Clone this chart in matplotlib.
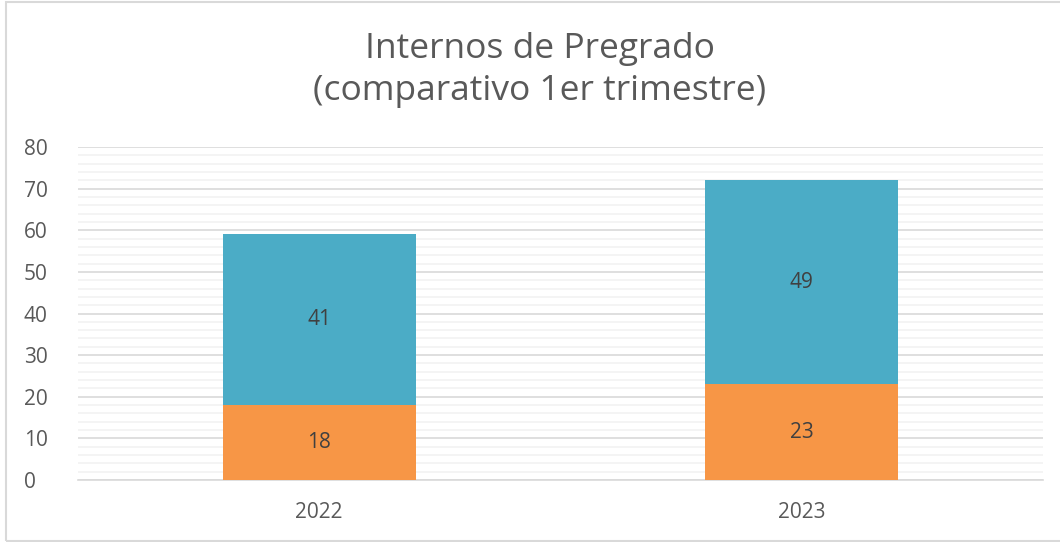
import matplotlib
matplotlib.use("Agg")
import matplotlib.pyplot as plt
from matplotlib.patches import Rectangle
from matplotlib.ticker import MultipleLocator

categories = ["2022", "2023"]
bottom_vals = [18, 23]
top_vals = [41, 49]
title = "Internos de Pregrado\n(comparativo 1er trimestre)"

plt.rcParams['font.family'] = ['Open Sans', 'DejaVu Sans']

W, H = 1060, 542
fig = plt.figure(figsize=(W / 100, H / 100), dpi=100)
ax = fig.add_axes([78 / W, 1 - 480 / H, (1043 - 78) / W, (480 - 147) / H])

x = list(range(len(categories)))
c_bot = "#F79646"
c_top = "#4BACC6"
ax.bar(x, bottom_vals, width=0.40, color=c_bot, zorder=3)
ax.bar(x, top_vals, width=0.40, bottom=bottom_vals, color=c_top, zorder=3)

for xi, v in zip(x, bottom_vals):
    ax.text(xi, v / 2, str(v), ha="center", va="center", fontsize=15, color="#404040", zorder=4)
for xi, b, v in zip(x, bottom_vals, top_vals):
    ax.text(xi, b + v / 2, str(v), ha="center", va="center", fontsize=15, color="#404040", zorder=4)

ax.set_xlim(-0.5, 1.5)
ax.set_ylim(0, 80)
ax.yaxis.set_major_locator(MultipleLocator(10))
ax.yaxis.set_minor_locator(MultipleLocator(2))
ax.set_xticks(x)
ax.set_xticklabels(categories)
ax.grid(axis="y", which="major", color="#d9d9d9", linewidth=1.2, zorder=0)
ax.grid(axis="y", which="minor", color="#f2f2f2", linewidth=1.2, zorder=0)
ax.tick_params(axis="both", which="both", length=0, labelsize=15, colors="#595959")
ax.tick_params(axis="x", pad=16)
ax.tick_params(axis="y", pad=39)
for lab in ax.get_yticklabels():
    lab.set_horizontalalignment("left")
for s in ["top", "right", "left"]:
    ax.spines[s].set_visible(False)
ax.spines["bottom"].set_color("#d9d9d9")
ax.spines["bottom"].set_linewidth(1.2)

fig.text(540 / W, 1 - 70 / H, title, ha="center", va="center", fontsize=25.5,
         color="#595959", linespacing=1.3)

fig.patches.append(Rectangle((6 / W, 1 - 541 / H), (1070 - 6) / W, (541 - 2) / H,
                             transform=fig.transFigure, fill=False,
                             edgecolor="#d9d9d9", linewidth=1.5))

fig.savefig("out.png", dpi=100)
